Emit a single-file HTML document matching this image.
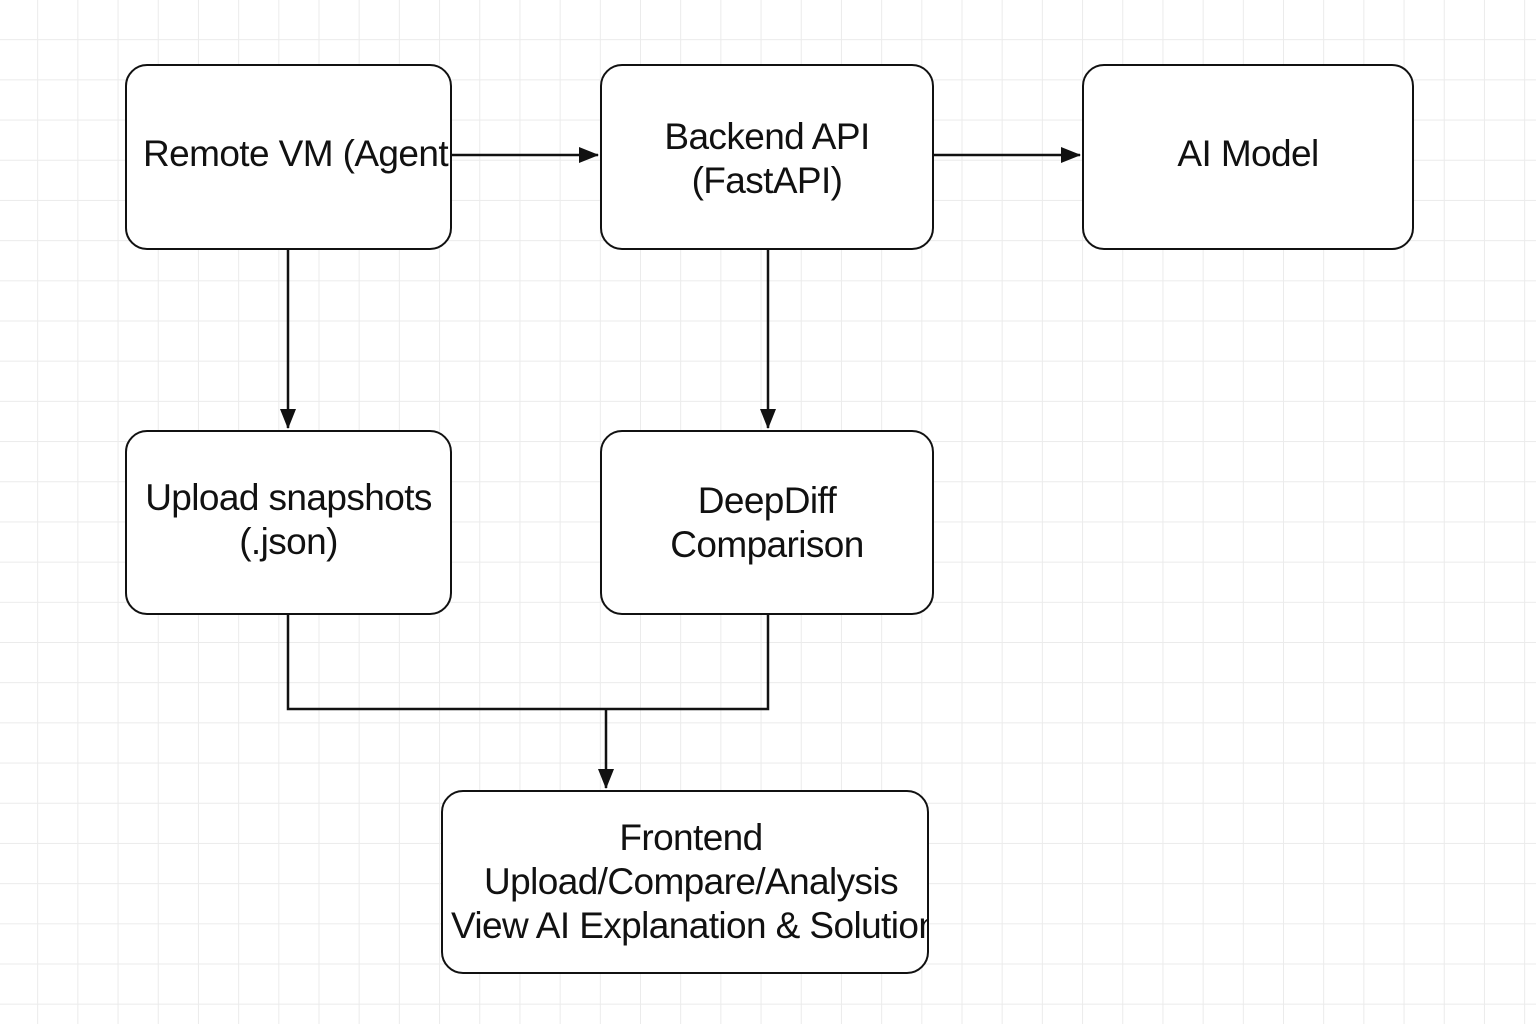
<!DOCTYPE html>
<html><head><style>
html,body{margin:0;padding:0}
body{width:1536px;height:1024px;position:relative;overflow:hidden;background-color:#fff;
background-image:linear-gradient(#ebebeb 1px,transparent 1px),linear-gradient(90deg,#ebebeb 1px,transparent 1px);
background-size:40.2px 40.2px;background-position:-3px -1px;}
.b{position:absolute;box-sizing:border-box;border:2.5px solid #111;border-radius:22px;background:#fff;
display:flex;align-items:center;justify-content:center;text-align:center;
font-family:"Liberation Sans",sans-serif;font-size:37px;line-height:44px;color:#111;white-space:nowrap;overflow:hidden;letter-spacing:-0.6px}
.l{position:absolute;white-space:nowrap}
svg{position:absolute;left:0;top:0}
</style></head><body>
<svg width="1536" height="1024">
<defs>
<marker id="v" markerWidth="20" markerHeight="20" refX="19" refY="8" orient="auto" markerUnits="userSpaceOnUse"><path d="M0,0 L20,8 L0,16 Z" fill="#111"/></marker></defs>
<g stroke="#111" stroke-width="2.5" fill="none">
<line x1="451" y1="155" x2="598" y2="155" marker-end="url(#v)"/>
<line x1="933" y1="155" x2="1080" y2="155" marker-end="url(#v)"/>
<line x1="288" y1="249" x2="288" y2="428" marker-end="url(#v)"/>
<line x1="768" y1="249" x2="768" y2="428" marker-end="url(#v)"/>
<polyline points="288,614 288,709 768,709 768,614"/>
<line x1="606" y1="709" x2="606" y2="788" marker-end="url(#v)"/>
</g></svg>
<div class="b" style="left:125px;top:64px;width:327px;height:186px;justify-content:flex-start;padding-left:16px;padding-bottom:6px">Remote VM (Agent</div>
<div class="b" style="left:600px;top:64px;width:334px;height:186px;padding-top:4px">Backend API<br>(FastAPI)</div>
<div class="b" style="left:1082px;top:64px;width:332px;height:186px;padding-bottom:6px">AI Model</div>
<div class="b" style="left:125px;top:430px;width:327px;height:185px;padding-bottom:6px">Upload snapshots<br>(.json)</div>
<div class="b" style="left:600px;top:430px;width:334px;height:185px">DeepDiff<br>Comparison</div>
<div class="b" style="left:441px;top:790px;width:488px;height:184px;display:block">
<div class="l" style="left:0;width:496px;text-align:center;top:24px">Frontend</div>
<div class="l" style="left:0;width:496px;text-align:center;top:68px">Upload/Compare/Analysis</div>
<div class="l" style="left:8px;top:112px">View AI Explanation &amp; Solutions</div>
</div>
</body></html>
